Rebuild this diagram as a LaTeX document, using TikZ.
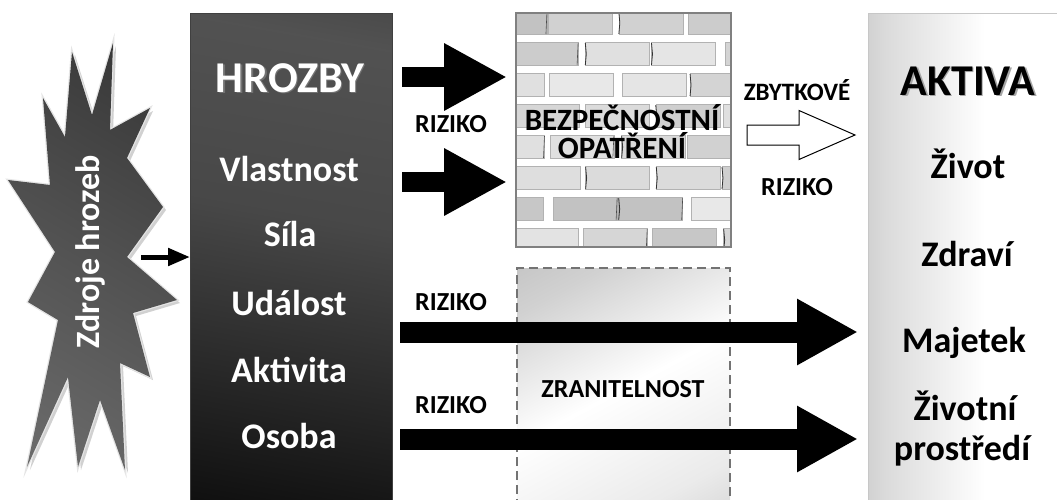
\documentclass[tikz,border=0pt]{standalone}
\usepackage{fontspec}
\setmainfont{Carlito}
\usetikzlibrary{arrows.meta,calc}
\pgfdeclarehorizontalshading{hrozsh}{100bp}{color(0bp)=(black); color(20bp)=(black!95); color(55bp)=(black!72); color(75bp)=(black!68); color(100bp)=(black!85)}
\pgfdeclarehorizontalshading{aktsh}{100bp}{color(0bp)=(black!36); color(30bp)=(black!14); color(55bp)=(white); color(100bp)=(white)}
\pgfdeclarehorizontalshading{starsh}{100bp}{color(0bp)=(black!52); color(50bp)=(black!68); color(100bp)=(black!85)}
\pgfdeclarehorizontalshading{zrsh}{100bp}{color(0bp)=(black!30); color(25bp)=(black!18); color(50bp)=(white); color(75bp)=(black!8); color(100bp)=(black!25)}
\tikzset{
  box/.style={anchor=north west, inner sep=0pt, outer sep=0pt},
  head/.style={font=\bfseries\fontsize{44}{48}\selectfont, anchor=base, inner sep=0pt},
  item/.style={font=\bfseries\fontsize{36}{40}\selectfont, anchor=base, inner sep=0pt},
  lab/.style={font=\bfseries\fontsize{26}{30}\selectfont, anchor=base, inner sep=0pt},
  toparr/.style={line width=20pt, -{Triangle[length=63pt, width=63pt]}},
  longarr/.style={line width=21pt, -{Triangle[length=61pt, width=62pt]}},
  smallarr/.style={line width=5pt, -{Triangle[length=22pt, width=17pt]}},
}
\newcommand\shtxt[4]{% name, position, style, shadow colour
  \node[#3, text=#4] (#1s) at ($#2+(1.5,1.5)$) {\csname txt#1\endcsname};
  \node[#3] (#1) at #2 {\csname txt#1\endcsname};}
\begin{document}
\begin{tikzpicture}[x=1pt,y=-1pt]
\useasboundingbox (0,0) rectangle (1057,499);
\fill[white] (0,0) rectangle (1057,499);

% ---------- star (Zdroje hrozeb)
\def\starpath{(72,52) -- (92,115) -- (113,43) -- (110,130) -- (150,108) -- (127,158) -- (163,207) -- (127,257) -- (177,300) -- (133,313) -- (150,377) -- (120,363) -- (125,470) -- (100,400) -- (78,467) -- (68,377) -- (27,467) -- (58,320) -- (28,302) -- (55,252) -- (8,180) -- (50,185) -- (43,98) -- (65,137) -- cycle}
\fill[black!18, shift={(3,3)}] \starpath;
\draw[black!10, line width=2.5pt, line join=miter] \starpath;
\shade[shading=starsh, shading angle=60] \starpath;
\node[font=\bfseries\fontsize{34}{38}\selectfont, text=white, rotate=90, inner sep=0pt] (src) at (90,252) {Zdroje hrozeb};
\coordinate (sa) at (141,257);

% ---------- HROZBY box
\node[box, draw=black!75, line width=0.8pt, shade, shading=hrozsh, shading angle=80, minimum width=202pt, minimum height=495pt] (hroz) at (190,13) {};
\draw[smallarr] (sa) -- (hroz.west |- sa);
\def\txthz{HROZBY}
\shtxt{hz}{(290,92)}{head, text=white}{black!55}
\node[item, text=white] (t1) at (289,181) {Vlastnost};
\node[item, text=white] (t2) at (290,246) {Síla};
\node[item, text=white] (t3) at (289,315) {Událost};
\node[item, text=white] (t4) at (289,382) {Aktivita};
\node[item, text=white] (t5) at (289,448) {Osoba};

% ---------- brick wall
\node[box, minimum width=215pt, minimum height=234pt] (wall) at (516,13) {};
\begin{scope}
\clip (516,13) rectangle (731,247);
\fill[white] (516,13) rectangle (731,247);
\pgfmathsetseed{11}
\foreach \r in {0,...,7} {
  \pgfmathsetmacro{\yt}{6+\r*31}
  \pgfmathsetmacro{\off}{mod(\r,2)*34-40}
  \foreach \c in {0,...,4} {
    \pgfmathsetmacro{\xl}{516+\off+\c*69+rnd*6}
    \pgfmathtruncatemacro{\g}{9+rnd*16}
    \pgfmathtruncatemacro{\k}{rnd>0.45 ? 1 : 0}
    \pgfmathtruncatemacro{\m}{rnd>0.6 ? 1 : 0}
    \fill[black!\g, draw=black!30, line width=0.4pt] (\xl+3,\yt+5) rectangle (\xl+67,\yt+28);
    \fill[black!\g!white, opacity=0.6] (\xl+14,\yt+9) rectangle (\xl+34,\yt+18);
    \ifnum\k=1 \draw[black!80, line width=0.8pt] (\xl+3,\yt+6) -- (\xl+4,\yt+17) -- (\xl+3,\yt+28); \fi
    \ifnum\m=1 \draw[black!70, line width=0.6pt] (\xl+67,\yt+6) -- (\xl+66,\yt+28); \fi
  }
}
\end{scope}
\draw[black!50, line width=1.5pt] (wall.north west) rectangle (wall.south east);
\node[lab, font=\bfseries\fontsize{31}{34}\selectfont] (bz1) at (622,130) {BEZPEČNOSTNÍ};
\node[lab, font=\bfseries\fontsize{31}{34}\selectfont] (bz2) at (622,158) {OPATŘENÍ};

% ---------- top arrows
\coordinate (s1) at (402,77);
\coordinate (s2) at (402,182);
\draw[toparr, shorten >=9pt] (s1) -- (wall.west |- s1);
\draw[toparr, shorten >=9pt] (s2) -- (wall.west |- s2);
\node[lab] (r1) at (451,132) {RIZIKO};

% ---------- zranitelnost
\node[box, shade, shading=zrsh, shading angle=-62, minimum width=213pt, minimum height=240pt] (zr) at (517,268) {};
\draw[black!55, line width=1.3pt, dash pattern=on 9pt off 5pt] (zr.south west) -- (zr.north west) -- (zr.north east) -- (zr.south east);
\node[lab] (zrt) at (623,397) {ZRANITELNOST};

% ---------- AKTIVA box
\node[box, draw=black!22, line width=0.8pt, shade, shading=aktsh, minimum width=195pt, minimum height=495pt] (akt) at (868,13) {};
\def\txtak{AKTIVA}
\shtxt{ak}{(968,95)}{head}{black!35}
\node[item] (a1) at (968,178) {Život};
\node[item] (a2) at (967,266) {Zdraví};
\node[item] (a3) at (964,352) {Majetek};
\node[item] (a4) at (965,420) {Životní};
\node[item] (a5) at (962,460) {prostředí};

% ---------- white arrow (residual risk)
\coordinate (w1) at (747,135);
\coordinate (w2) at (855,135);
\draw[line width=1pt, fill=white, line join=miter] ($(w1)+(0,-10)$) -- ($(w2)+(-56,-10)$) -- ($(w2)+(-56,-24.5)$) -- (w2) -- ($(w2)+(-56,24.5)$) -- ($(w2)+(-56,10)$) -- ($(w1)+(0,10)$) -- cycle;
\node[lab, font=\bfseries\fontsize{25}{28}\selectfont] (zb) at (797,100) {ZBYTKOVÉ};
\node[lab] (zb2) at (797,195) {RIZIKO};

% ---------- long arrows
\coordinate (s3) at (400,332);
\coordinate (s4) at (400,439);
\draw[longarr, shorten >=10pt] (s3) -- (akt.west |- s3);
\draw[longarr, shorten >=10pt] (s4) -- (akt.west |- s4);
\node[lab] (r3) at (451,310) {RIZIKO};
\node[lab] (r4) at (451,413) {RIZIKO};
\end{tikzpicture}
\end{document}
